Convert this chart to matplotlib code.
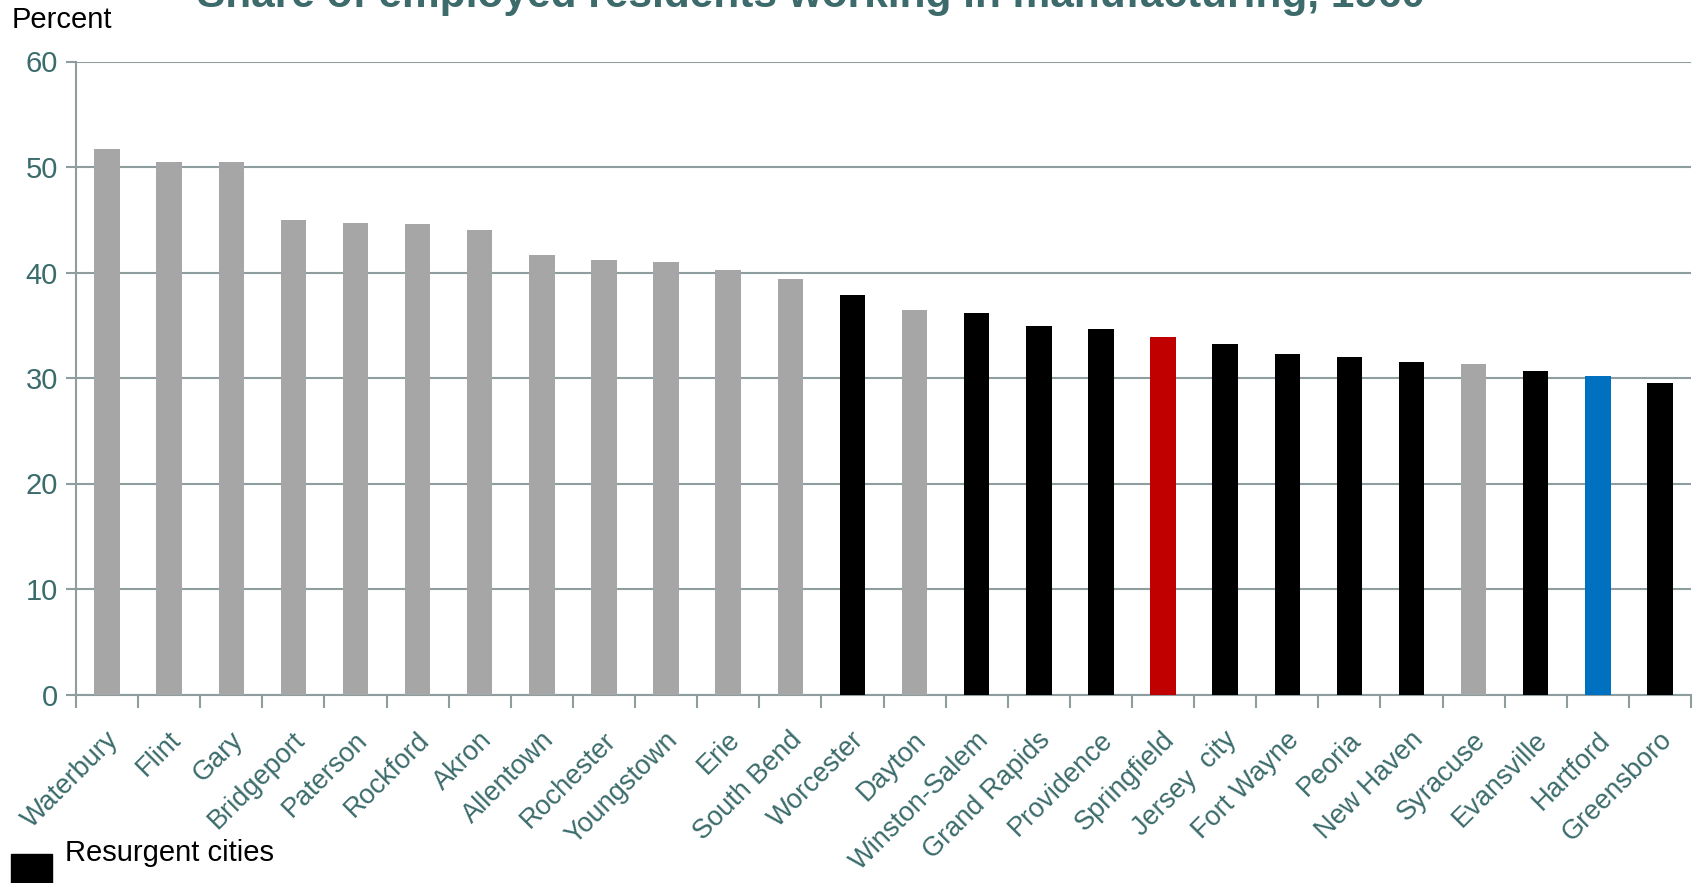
import matplotlib.pyplot as plt
import matplotlib.patches as mpatches
import numpy as np

plt.rcParams['font.family'] = ['Liberation Sans', 'DejaVu Sans']

# data
cities = ['Waterbury', 'Flint', 'Gary', 'Bridgeport', 'Paterson', 'Rockford', 'Akron',
          'Allentown', 'Rochester', 'Youngstown', 'Erie', 'South Bend', 'Worcester',
          'Dayton', 'Winston-Salem', 'Grand Rapids', 'Providence', 'Springfield',
          'Jersey  city', 'Fort Wayne', 'Peoria', 'New Haven', 'Syracuse', 'Evansville',
          'Hartford', 'Greensboro']
share = [51.7, 50.5, 50.5, 45.0, 44.7, 44.6, 44.0, 41.7, 41.2, 41.0, 40.2, 39.4, 37.9,
         36.4, 36.2, 34.9, 34.6, 33.9, 33.2, 32.3, 32.0, 31.5, 31.3, 30.7, 30.2, 29.5]
# g = other, r = resurgent, s = Springfield, h = Hartford
group = ['g', 'g', 'g', 'g', 'g', 'g', 'g', 'g', 'g', 'g', 'g', 'g', 'r',
         'g', 'r', 'r', 'r', 's', 'r', 'r', 'r', 'r', 'g', 'r', 'h', 'r']
group_color = {'g': '#A6A6A6', 'r': '#000000', 's': '#C00000', 'h': '#0070C0'}

teal = '#3B6B6B'
grid_c = '#8E9E9E'

fig = plt.figure(figsize=(16.96, 8.83), dpi=100)
ax = fig.add_axes([76 / 1696, 1 - 694.5 / 883, (1691 - 76) / 1696, (694.5 - 61.5) / 883])

x = np.arange(len(cities))
ax.bar(x, share, width=0.41, color=[group_color[g] for g in group], zorder=3)

ax.set_xlim(-0.5, len(cities) - 0.5)
ax.set_ylim(0, 60)
ax.set_yticks(np.arange(0, 61, 10))
ax.yaxis.grid(True, color=grid_c, linewidth=1.5, zorder=0)

# tick marks between categories, labels a little right of the centres (rotated text)
ax.set_xticks(np.arange(-0.5, len(cities), 1.0))
ax.set_xticklabels([])
ax.set_xticks(x + 0.13, minor=True)
ax.set_xticklabels(cities, minor=True, rotation=45, ha='right', va='center',
                   rotation_mode='anchor', fontsize=19.5, color=teal)
ax.tick_params(axis='x', which='major', length=9, width=1.5, color=grid_c, direction='out')
ax.tick_params(axis='x', which='minor', length=0, pad=30)
ax.tick_params(axis='y', length=7, width=1.5, color=grid_c, labelsize=21,
               labelcolor=teal, pad=6)

for s in ['top', 'right']:
    ax.spines[s].set_visible(False)
for s in ['left', 'bottom']:
    ax.spines[s].set_color(grid_c)
    ax.spines[s].set_linewidth(1.5)

fig.text(12 / 1696, 1 - 20 / 883, 'Percent', fontsize=21, color='black', va='center', ha='left')
fig.text(811 / 1696, 1 - 7 / 883, 'Share of employed residents working in manufacturing, 1960',
         fontsize=30.5, fontweight='bold', color='#3D6B6B', ha='center', va='baseline')

# legend
fig.add_artist(mpatches.Rectangle((11 / 1696, 1 - 883 / 883), 41 / 1696, 29 / 883,
                                  transform=fig.transFigure, color='black'))
fig.text(65 / 1696, 1 - 853 / 883, 'Resurgent cities', fontsize=21, color='black',
         va='center', ha='left')

plt.savefig('out.png', dpi=100)
